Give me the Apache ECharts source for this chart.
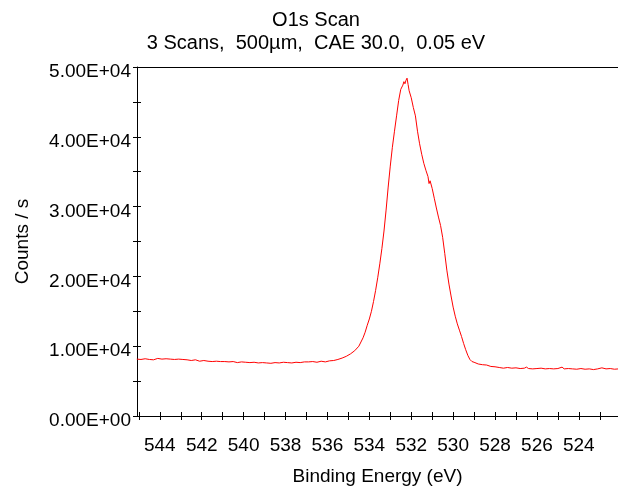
<!DOCTYPE html>
<html>
<head>
<meta charset="utf-8">
<script src="https://cdn.jsdelivr.net/npm/echarts@6/dist/echarts.min.js"></script>
<style>
html,body{margin:0;padding:0;background:#fff;}
#chart{width:618px;height:491px;}
</style>
</head>
<body>
<div id="chart"></div>
<script>
// Data
const titleText = 'O1s Scan';
const subtitleText = '3 Scans,  500\u00b5m,  CAE 30.0,  0.05 eV';
const xAxisName = 'Binding Energy (eV)';
const yAxisName = 'Counts / s';

const xLabelValues = [544, 542, 540, 538, 536, 534, 532, 530, 528, 526, 524];
const xTickValues = [545, 544, 543, 542, 541, 540, 539, 538, 537, 536, 535, 534, 533, 532, 531, 530, 529, 528, 527, 526, 525, 524, 523];
const yLabelValues = [0, 10000, 20000, 30000, 40000, 50000];

const energies = [
  545.1, 544.9, 544.7, 544.5, 544.3, 544.1, 543.9, 543.7, 543.5, 543.3,
  543.1, 542.9, 542.7, 542.5, 542.3, 542.1, 541.9, 541.7, 541.5, 541.3,
  541.1, 540.9, 540.7, 540.5, 540.3, 540.1, 539.9, 539.7, 539.5, 539.3,
  539.1, 538.9, 538.7, 538.5, 538.3, 538.1, 537.9, 537.7, 537.5, 537.3,
  537.1, 536.9, 536.7, 536.5, 536.3, 536.1, 535.9, 535.7, 535.5, 535.3,
  535.1, 534.9, 534.7, 534.5,
  534.4, 534.3, 534.2, 534.1, 534.0, 533.9, 533.8, 533.7, 533.6, 533.5,
  533.4, 533.3, 533.2, 533.1, 533.0, 532.9, 532.8, 532.7, 532.6, 532.5,
  532.4, 532.35, 532.3, 532.25, 532.2, 532.15, 532.1, 532.0, 531.9, 531.8,
  531.7, 531.6, 531.5, 531.4, 531.3, 531.2, 531.15, 531.1, 531.0, 530.9,
  530.8, 530.7, 530.6, 530.5, 530.4, 530.3, 530.2, 530.1, 530.0, 529.9,
  529.8, 529.7, 529.6, 529.5, 529.4, 529.3, 529.2, 529.1, 529.0,
  528.8, 528.6, 528.4, 528.2, 528.0, 527.8, 527.6, 527.4, 527.2, 527.0,
  526.8, 526.6, 526.5, 526.4, 526.2, 526.0, 525.8, 525.6, 525.4, 525.2,
  525.0, 524.8, 524.7, 524.5, 524.3, 524.1, 523.9, 523.7, 523.5, 523.3,
  523.1, 522.9, 522.7, 522.5, 522.3, 522.1
];
const counts = [
  8150, 8100, 8200, 8100, 8050, 8250, 8150, 8200, 8150, 8100,
  8150, 8100, 8050, 7950, 8050, 7850, 7950, 7850, 7800, 7850,
  7800, 7800, 7750, 7800, 7650, 7750, 7700, 7650, 7700, 7600,
  7650, 7600, 7550, 7650, 7600, 7700, 7650, 7600, 7700, 7650,
  7750, 7750, 7800, 7700, 7850, 7750, 7900, 7950, 8100, 8300,
  8550, 8900, 9350, 10000,
  10600, 11200, 12000, 13000, 13900, 15000, 16400, 18000, 19800, 21800,
  24000, 26500, 29500, 32800, 35800, 38500, 40800, 43000, 45200, 46800,
  47400, 47900, 47600, 48100, 48400, 47500, 46600, 45600, 44200, 43000,
  40800, 39000, 37500, 36200, 35200, 34300, 33300, 33700, 32600, 31200,
  29800, 28500, 27300, 25600, 23300, 20900, 18900, 17200, 15600, 14300,
  13200, 12300, 11400, 10400, 9500, 8700, 8100, 7800, 7700,
  7450, 7350, 7300, 7100, 7050, 6950, 6850, 6950, 6850, 6900,
  6800, 6850, 7000, 6800, 6750, 6800, 6850, 6750, 6800, 6750,
  6800, 7000, 6750, 6800, 6750, 6700, 6800, 6700, 6750, 6650,
  6750, 6900, 6750, 6800, 6700, 6750
];

const FONT = 'Liberation Sans, Arial, sans-serif';
const FS = 19;
const TFS = 20;

function fmtSci(v) {
  if (v === 0) return '0.00E+00';
  const e = Math.floor(Math.log10(Math.abs(v)));
  const m = v / Math.pow(10, e);
  const es = (e < 0 ? '-' : '+') + String(Math.abs(e)).padStart(2, '0');
  return m.toFixed(2) + 'E' + es;
}

const chart = echarts.init(document.getElementById('chart'), null, {renderer: 'canvas'});
const xMin = 522.13, xMax = 545.09;
const axisBlack = {color: '#000', width: 1};

chart.setOption({
  animation: false,
  backgroundColor: '#fff',
  textStyle: {fontFamily: FONT},
  title: [
    {text: titleText, left: 316, top: 10, padding: 0, textAlign: 'center',
     textStyle: {fontFamily: FONT, fontSize: TFS, fontWeight: 'normal', color: '#000'}},
    {text: subtitleText, left: 316, top: 33, padding: 0, textAlign: 'center',
     textStyle: {fontFamily: FONT, fontSize: TFS, fontWeight: 'normal', color: '#000'}}
  ],
  grid: {left: 137, right: 0, top: 67, bottom: 74, containLabel: false},
  xAxis: [
    {
      type: 'value', position: 'bottom', inverse: true, min: xMin, max: xMax,
      axisLine: {show: true, onZero: false, lineStyle: axisBlack},
      axisTick: {show: true, inside: false, length: 4, lineStyle: axisBlack, customValues: xTickValues},
      axisLabel: {show: true, margin: 20, fontFamily: FONT, fontSize: FS, color: '#000', customValues: xLabelValues,
                  formatter: v => String(Math.round(v))},
      splitLine: {show: false},
      name: xAxisName, nameLocation: 'middle', nameGap: 51,
      nameTextStyle: {fontFamily: FONT, fontSize: FS, color: '#000'}
    },
    {
      type: 'value', position: 'bottom', inverse: true, min: xMin, max: xMax,
      axisLine: {show: false, onZero: false},
      axisTick: {show: true, inside: true, length: 4, lineStyle: axisBlack, customValues: xTickValues},
      axisLabel: {show: false},
      splitLine: {show: false}
    },
    {
      type: 'value', position: 'top', inverse: true, min: xMin, max: xMax,
      axisLine: {show: true, onZero: false, lineStyle: axisBlack},
      axisTick: {show: false}, axisLabel: {show: false}, splitLine: {show: false}
    }
  ],
  yAxis: [
    {
      type: 'value', position: 'left', min: 0, max: 50000, interval: 5000,
      axisLine: {show: true, onZero: false, lineStyle: axisBlack},
      axisTick: {show: true, inside: false, length: 4, lineStyle: axisBlack},
      axisLabel: {show: true, margin: 6, fontFamily: FONT, fontSize: FS, color: '#000',
                  verticalAlign: 'top', lineHeight: 10,
                  formatter: v => (yLabelValues.indexOf(v) >= 0 ? fmtSci(v) : '')},
      splitLine: {show: false},
      name: yAxisName, nameLocation: 'middle', nameGap: 105, nameRotate: 90,
      nameTextStyle: {fontFamily: FONT, fontSize: FS, color: '#000'}
    },
    {
      type: 'value', position: 'left', min: 0, max: 50000, interval: 5000,
      axisLine: {show: false, onZero: false},
      axisTick: {show: true, inside: true, length: 4, lineStyle: axisBlack},
      axisLabel: {show: false},
      splitLine: {show: false}
    }
  ],
  series: [{
    type: 'line',
    xAxisIndex: 0, yAxisIndex: 0,
    data: energies.map((e, i) => [e, counts[i]]),
    showSymbol: false, symbol: 'none',
    lineStyle: {color: '#ff0000', width: 1},
    clip: true
  }]
});
</script>
</body>
</html>
